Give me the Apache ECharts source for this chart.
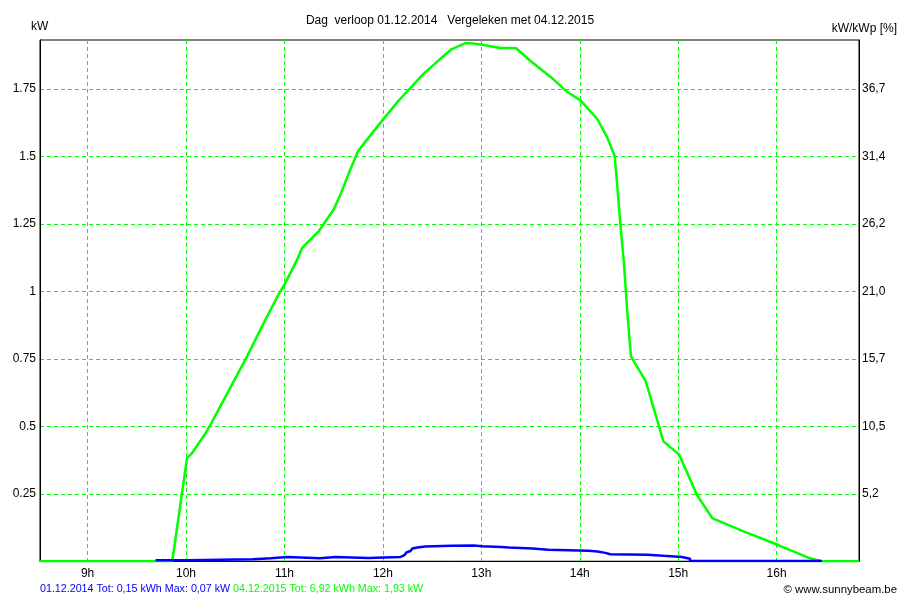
<!DOCTYPE html>
<html>
<head>
<meta charset="utf-8">
<script src="https://cdn.jsdelivr.net/npm/echarts@6/dist/echarts.min.js"></script>
<style>html,body{margin:0;padding:0;background:#fff}#c{width:900px;height:600px}</style>
</head>
<body>
<div id="c"></div>
<script>
// Reference day 04.12.2015 (green), hours and kW
const greenHours = [8.5164, 9.86, 10.01, 10.06, 10.2, 10.25, 10.43, 10.62, 10.79, 10.94, 11.01, 11.13, 11.18, 11.35, 11.5, 11.57, 11.67, 11.75, 11.855, 11.99, 12.16, 12.41, 12.6, 12.7, 12.84, 12.89, 13.01, 13.19, 13.35, 13.5, 13.71, 13.86, 14.01, 14.18, 14.28, 14.355, 14.38, 14.41, 14.45, 14.48, 14.52, 14.67, 14.85, 15.01, 15.19, 15.345, 15.67, 16.01, 16.34, 16.46, 16.837];
const greenKw = [0, 0, 0.382, 0.40, 0.475, 0.507, 0.629, 0.759, 0.883, 0.988, 1.031, 1.118, 1.161, 1.223, 1.303, 1.359, 1.452, 1.52, 1.569, 1.631, 1.706, 1.804, 1.866, 1.897, 1.919, 1.919, 1.913, 1.901, 1.901, 1.853, 1.792, 1.742, 1.706, 1.637, 1.569, 1.501, 1.396, 1.26, 1.099, 0.938, 0.759, 0.667, 0.444, 0.395, 0.246, 0.160, 0.110, 0.061, 0.011, 0, 0];
// Day 01.12.2014 (blue), stepped
const blueHours = [9.69, 10.02, 10.68, 10.86, 11.03, 11.36, 11.52, 11.85, 12.18, 12.2, 12.22, 12.24, 12.26, 12.28, 12.3, 12.32, 12.35, 12.43, 12.69, 12.92, 13.01, 13.2, 13.28, 13.52, 13.68, 14.09, 14.18, 14.26, 14.31, 14.69, 14.85, 15.04, 15.12, 16.46];
const blueKw = [0.004, 0.007, 0.011, 0.016, 0.011, 0.016, 0.012, 0.016, 0.019, 0.023, 0.028, 0.033, 0.038, 0.043, 0.047, 0.051, 0.055, 0.057, 0.058, 0.056, 0.053, 0.051, 0.047, 0.043, 0.039, 0.036, 0.031, 0.026, 0.024, 0.020, 0.016, 0.009, 0.001, 0.001];
const rightTickLabels = ['5,2', '10,5', '15,7', '21,0', '26,2', '31,4', '36,7'];
const titleText = 'Dag  verloop 01.12.2014   Vergeleken met 04.12.2015';
const blueLegend = '01.12.2014 Tot: 0,15 kWh Max: 0,07 kW';
const greenLegend = '04.12.2015 Tot: 6,92 kWh Max: 1,93 kW';
const credit = '\u00a9 www.sunnybeam.be';

const FONT = '"Liberation Sans", Arial, sans-serif';
const GREEN = '#00ff00';
const BLUE = '#0000ff';
const grid = {lineStyle: {color: GREEN, type: [4, 3], width: 1, opacity: 1}, showMinLine: false, showMaxLine: false};
const X_MIN = 8.5164, X_MAX = 16.837, Y_MAX = 1.9306;

const chart = echarts.init(document.getElementById('c'), null, {renderer: 'canvas', devicePixelRatio: 1});
chart.setOption({
  animation: false,
  backgroundColor: '#fff',
  textStyle: {fontFamily: FONT},
  title: {
    text: titleText, left: 'center', top: 10,
    textStyle: {fontFamily: FONT, fontSize: 12, fontWeight: 'normal', color: '#000'}
  },
  grid: {left: 40, right: 41, top: 40, bottom: 38.75, show: true, borderColor: '#000', borderWidth: 1, backgroundColor: 'transparent'},
  xAxis: {
    type: 'value', min: X_MIN, max: X_MAX, splitNumber: 8,
    axisLine: {show: true, lineStyle: {color: '#000', width: 1}},
    axisTick: {show: false},
    axisLabel: {color: '#000', fontSize: 12, fontFamily: FONT, margin: 6, showMinLabel: false, showMaxLabel: false,
      formatter: v => v + 'h'},
    splitLine: Object.assign({show: true}, grid)
  },
  yAxis: [{
    type: 'value', min: 0, max: Y_MAX, interval: 0.25, position: 'left',
    axisLine: {show: true, lineStyle: {color: '#000'}},
    axisTick: {show: false},
    axisLabel: {color: '#000', fontSize: 12, fontFamily: FONT, margin: 4, showMinLabel: false, showMaxLabel: false},
    splitLine: Object.assign({show: true}, grid)
  }, {
    type: 'value', min: 0, max: Y_MAX, interval: 0.25, position: 'right',
    axisLine: {show: true, lineStyle: {color: '#000'}},
    axisTick: {show: false},
    axisLabel: {color: '#000', fontSize: 12, fontFamily: FONT, margin: 3, showMinLabel: false, showMaxLabel: false,
      formatter: v => { const i = Math.round(v / 0.25) - 1; return rightTickLabels[i] || ''; }},
    splitLine: {show: false}
  }],
  graphic: [
    {type: 'text', left: 31, top: 21, style: {text: 'kW', font: '12px ' + FONT, fill: '#000'}},
    {type: 'text', right: 3, top: 23, style: {text: 'kW/kWp [%]', font: '12px ' + FONT, fill: '#000'}},
    {type: 'text', left: 40, top: 584, style: {
      text: '{b|' + blueLegend + '} {g|' + greenLegend + '}',
      font: '10.7px ' + FONT,
      rich: {b: {fill: BLUE, fontSize: 10.7, fontFamily: FONT}, g: {fill: GREEN, fontSize: 10.7, fontFamily: FONT}}
    }},
    {type: 'text', right: 3, top: 584, style: {text: credit, font: '11.4px ' + FONT, fill: '#000'}}
  ],
  series: [{
    type: 'line', name: '04.12.2015', showSymbol: false, symbol: 'none',
    data: greenHours.map((h, i) => [h, greenKw[i]]),
    lineStyle: {color: GREEN, width: 2.5}, itemStyle: {color: GREEN}, z: 3
  }, {
    type: 'line', name: '01.12.2014', showSymbol: false, symbol: 'none', step: 'end',
    data: blueHours.map((h, i) => [h, blueKw[i]]),
    lineStyle: {color: BLUE, width: 2.5}, itemStyle: {color: BLUE}, z: 4
  }]
});
</script>
</body>
</html>
